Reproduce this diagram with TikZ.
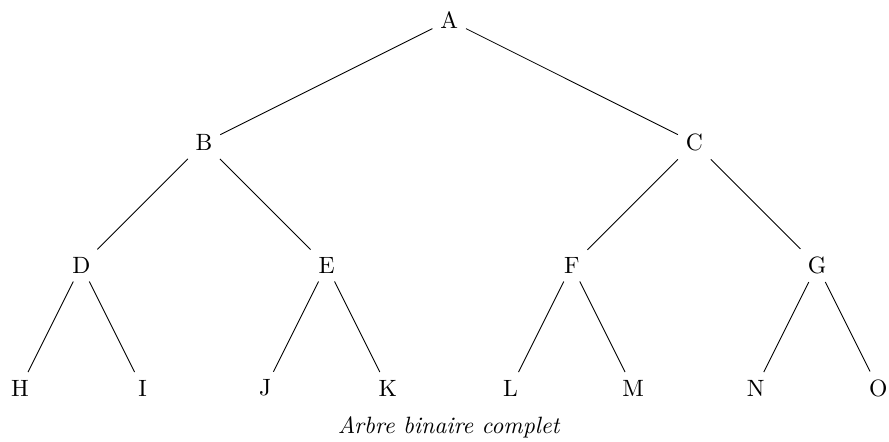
\documentclass[tikz,border=0pt]{standalone}
\begin{document}
\begin{tikzpicture}[x=1cm,y=1cm,
  every node/.style={font=\fontsize{10.95}{13.6}\selectfont},
  tnode/.style={inner sep=3.5pt},
  edge/.style={draw, line width=0.4pt}]
\useasboundingbox (0,0) rectangle (14.50,-7.194);
\def\lx{0.326}
\node[tnode] (A) at (\lx+7,-0.33) {A};
\node[tnode] (B) at (\lx+3,-2.33) {B};
\node[tnode] (C) at (\lx+11,-2.33) {C};
\node[tnode] (D) at (\lx+1,-4.33) {D};
\node[tnode] (E) at (\lx+5,-4.33) {E};
\node[tnode] (F) at (\lx+9,-4.33) {F};
\node[tnode] (G) at (\lx+13,-4.33) {G};
\node[tnode] (H) at (\lx+0,-6.33) {H};
\node[tnode] (I) at (\lx+2,-6.33) {I};
\node[tnode] (J) at (\lx+4,-6.33) {J};
\node[tnode] (K) at (\lx+6,-6.33) {K};
\node[tnode] (L) at (\lx+8,-6.33) {L};
\node[tnode] (M) at (\lx+10,-6.33) {M};
\node[tnode] (N) at (\lx+12,-6.33) {N};
\node[tnode] (O) at (\lx+14,-6.33) {O};
\node (cap) at (\lx+7,-6.966) {\textit{Arbre binaire complet}};
\foreach \p/\c in {A/B,A/C,B/D,B/E,C/F,C/G,D/H,D/I,E/J,E/K,F/L,F/M,G/N,G/O}
  \draw[edge] (\p) -- (\c);
\end{tikzpicture}
\end{document}
